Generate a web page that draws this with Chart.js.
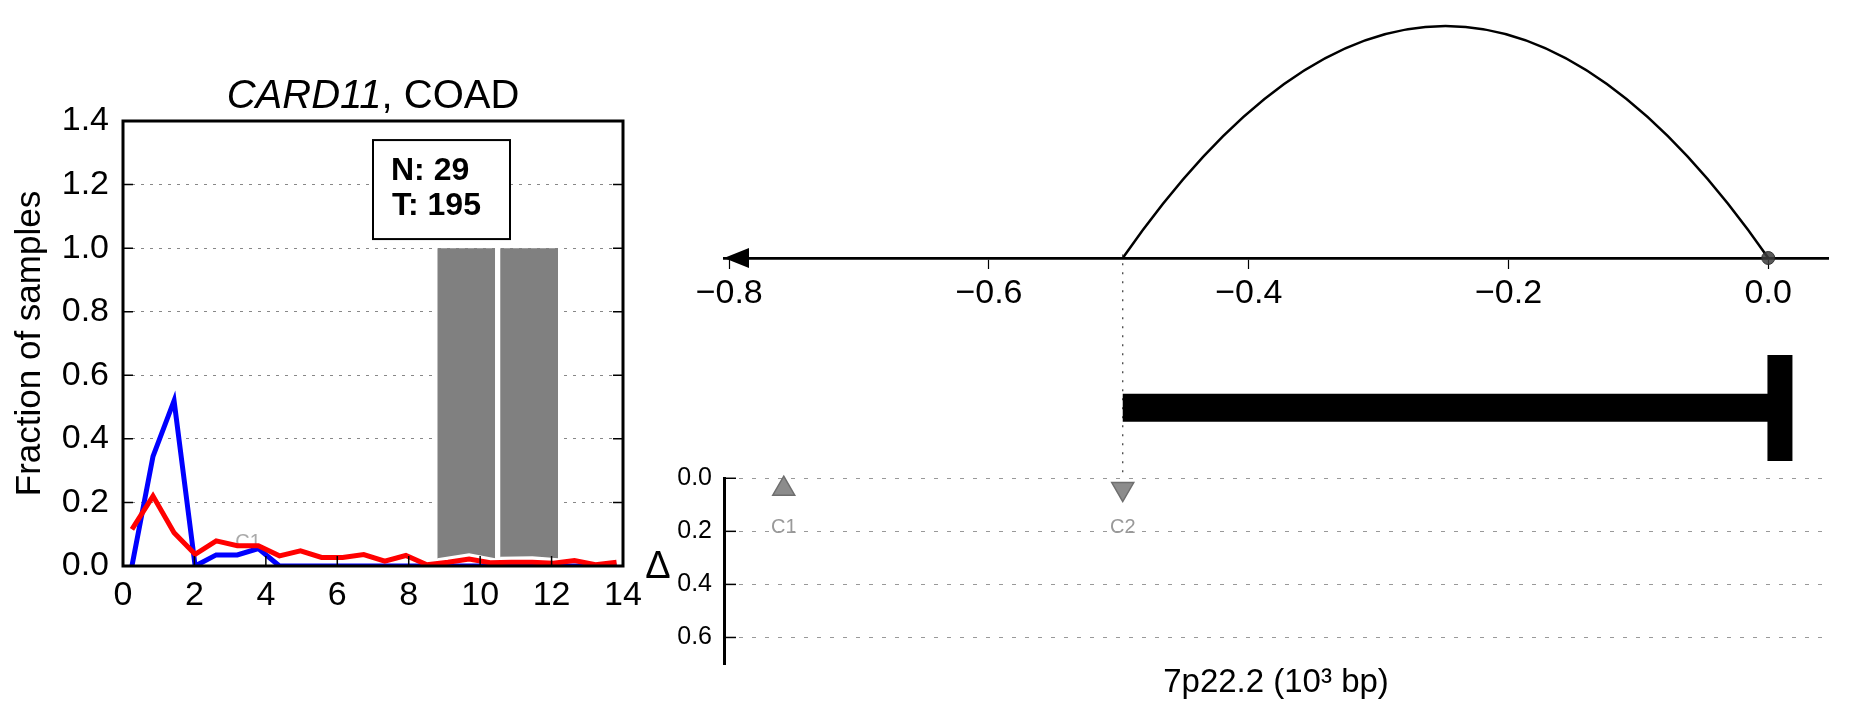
<!DOCTYPE html>
<html>
<head>
<meta charset="utf-8">
<script src="https://cdn.jsdelivr.net/npm/chart.js@4.4.1/dist/chart.umd.min.js"></script>
<style>
  body { margin: 0; background: #fff; }
  #wrap { position: relative; width: 1851px; height: 718px; overflow: hidden; }
  canvas { position: absolute; }
</style>
</head>
<body>
<div id="wrap">
  <canvas id="left" width="650" height="718" style="left:0;top:0;width:650px;height:718px"></canvas>
  <canvas id="rtop" width="1211" height="330" style="left:640px;top:0;width:1211px;height:330px"></canvas>
  <canvas id="rbot" width="1211" height="478" style="left:640px;top:240px;width:1211px;height:478px"></canvas>
</div>
<script>
Chart.defaults.font.family = '"Liberation Sans", Arial, Helvetica, sans-serif';
Chart.defaults.color = '#000';

// ---- left panel: fraction of samples ----
var sampleX = [0.25, 0.84, 1.43, 2.02, 2.61, 3.2, 3.79, 4.38, 4.97, 5.56, 6.15, 6.74,
               7.33, 7.92, 8.51, 9.1, 9.69, 10.28, 10.87, 11.46, 12.05, 12.64, 13.23, 13.82];
var normalFrac = [0.0, 0.345, 0.52, 0.0, 0.035, 0.035, 0.055, 0.0, 0.0, 0.0, 0.0, 0.0,
                  0.0, 0.0, 0.0, 0.0, 0.0, 0.0, 0.0, 0.0, 0.0, 0.0, 0.0, 0.0];
var tumorFrac = [0.115, 0.22, 0.105, 0.037, 0.079, 0.064, 0.064, 0.032, 0.048, 0.027, 0.027, 0.036,
                 0.015, 0.033, 0.004, 0.012, 0.022, 0.010, 0.012, 0.012, 0.009, 0.017, 0.004, 0.012];
var shadeAX = [8.8, 9.69, 10.42];
var shadeALow = [0.022, 0.038, 0.022];
var shadeBX = [10.56, 11.46, 12.18];
var shadeBLow = [0.027, 0.028, 0.022];
var shadeTop = 1.0;
var leftXTicks = [0, 2, 4, 6, 8, 10, 12, 14];
var leftYTicks = [0, 0.2, 0.4, 0.6, 0.8, 1.0, 1.2, 1.4];
var countLines = ['N: 29', 'T: 195'];
var boxAt = [7.0, 1.34];

// ---- right panel: arc plot + gene + delta markers ----
var topTicks = [-0.8, -0.6, -0.4, -0.2, 0.0];
var topTickLabels = ['\u22120.8', '\u22120.6', '\u22120.4', '\u22120.2', '0.0'];
var posMin = -0.804, posMax = 0.046;
var arcFrom = [-0.497];
var arcTo = [0.0];
var arcHeight = [1.0];
var anchorPos = [0.0];
var geneStart = -0.497, geneEnd = 0.0, geneCapPos = 0.009;
var markerNames = ['C1', 'C2'];
var markerPos = [-0.758, -0.497];
var markerDelta = [0.04, 0.04];
var markerRot = [0, 180];
var deltaTicks = [0, 0.2, 0.4, 0.6];

function pts(xs, ys) {
  return xs.map(function (x, i) { return {x: x, y: ys[i]}; });
}
function fixedTicks(list) {
  return function (s) { s.ticks = list.map(function (v) { return {value: v}; }); };
}

// left panel extras
var leftDeco = {
  id: 'leftDeco',
  beforeDatasetsDraw: function (chart) {
    var ctx = chart.ctx, x = chart.scales.x, y = chart.scales.y;
    ctx.save();
    ctx.fillStyle = '#aaaaaa';
    ctx.font = '20px "Liberation Sans", Arial';
    ctx.textAlign = 'center';
    ctx.textBaseline = 'middle';
    ctx.fillText('C1', x.getPixelForValue(3.5), y.getPixelForValue(0.075));
    ctx.restore();
  },
  afterDraw: function (chart) {
    var ctx = chart.ctx, a = chart.chartArea, x = chart.scales.x, y = chart.scales.y;
    ctx.save();
    // frame
    ctx.strokeStyle = '#000';
    ctx.lineWidth = 3;
    ctx.strokeRect(a.left, a.top, a.right - a.left, a.bottom - a.top);
    // inward ticks
    ctx.lineWidth = 1.5;
    y.ticks.forEach(function (t) {
      var p = y.getPixelForValue(t.value);
      ctx.beginPath();
      ctx.moveTo(a.left, p); ctx.lineTo(a.left + 10, p);
      ctx.moveTo(a.right, p); ctx.lineTo(a.right - 10, p);
      ctx.stroke();
    });
    x.ticks.forEach(function (t) {
      var p = x.getPixelForValue(t.value);
      ctx.beginPath();
      ctx.moveTo(p, a.bottom); ctx.lineTo(p, a.bottom - 10);
      ctx.stroke();
    });
    // counts box
    var bx = x.getPixelForValue(boxAt[0]), by = y.getPixelForValue(boxAt[1]);
    ctx.fillStyle = '#fff';
    ctx.fillRect(bx, by, 137, 99);
    ctx.lineWidth = 2;
    ctx.strokeRect(bx, by, 137, 99);
    ctx.fillStyle = '#000';
    ctx.font = 'bold 32px "Liberation Sans", Arial';
    ctx.textAlign = 'left';
    ctx.textBaseline = 'alphabetic';
    ctx.fillText(countLines[0], bx + 18, by + 40);
    ctx.fillText(countLines[1], bx + 19, by + 75);
    // title: italic gene name + cohort
    var f1 = 'italic 40px "Liberation Sans", Arial', f2 = '40px "Liberation Sans", Arial';
    ctx.font = f1; var w1 = ctx.measureText('CARD11').width;
    ctx.font = f2; var w2 = ctx.measureText(', COAD').width;
    var sx = (a.left + a.right) / 2 - (w1 + w2) / 2;
    ctx.font = f1; ctx.fillText('CARD11', sx, 108);
    ctx.font = f2; ctx.fillText(', COAD', sx + w1, 108);
    ctx.restore();
  }
};

new Chart(document.getElementById('left'), {
  type: 'scatter',
  data: {
    datasets: [
      {label: 'Tumor', data: pts(sampleX, tumorFrac), showLine: true, borderColor: '#ff0000',
       borderWidth: 5, pointRadius: 0, order: 0},
      {label: 'Normal', data: pts(sampleX, normalFrac), showLine: true, borderColor: '#0000ff',
       borderWidth: 5, pointRadius: 0, order: 1},
      {label: 'shadeA', data: pts(shadeAX, shadeALow), showLine: true, fill: {value: shadeTop},
       backgroundColor: '#808080', borderColor: '#ffffff', borderWidth: 1.5, pointRadius: 0, order: 2},
      {label: 'shadeB', data: pts(shadeBX, shadeBLow), showLine: true, fill: {value: shadeTop},
       backgroundColor: '#808080', borderColor: '#ffffff', borderWidth: 1.5, pointRadius: 0, order: 2}
    ]
  },
  options: {
    responsive: false,
    animation: false,
    devicePixelRatio: 1,
    layout: {padding: {top: 121, right: 27, left: 0, bottom: 0}},
    plugins: {legend: {display: false}, tooltip: {enabled: false}},
    scales: {
      x: {
        type: 'linear', min: 0, max: 14,
        afterBuildTicks: fixedTicks(leftXTicks),
        afterFit: function (s) { s.height = 152; },
        grid: {display: false},
        border: {display: false},
        ticks: {font: {size: 34}, color: '#000', padding: 1, maxRotation: 0,
                callback: function (v) { return String(v); }}
      },
      y: {
        type: 'linear', min: 0, max: 1.4,
        afterBuildTicks: fixedTicks(leftYTicks),
        afterFit: function (s) { s.width = 123; },
        grid: {color: '#888', lineWidth: 1, drawTicks: false},
        border: {display: false, dash: [3, 6]},
        ticks: {font: {size: 34}, color: '#000', padding: 14,
                callback: function (v) { return v.toFixed(1); }},
        title: {display: true, text: 'Fraction of samples', font: {size: 35}, color: '#000',
                padding: {top: 9, bottom: 0}}
      }
    }
  },
  plugins: [leftDeco]
});

// right top: arc over position axis
var arcDeco = {
  id: 'arcDeco',
  beforeDatasetsDraw: function (chart) {
    var ctx = chart.ctx, x = chart.scales.x, y = chart.scales.y;
    ctx.save();
    ctx.strokeStyle = '#000';
    ctx.lineWidth = 2.5;
    arcFrom.forEach(function (f, i) {
      var x0 = x.getPixelForValue(f), x1 = x.getPixelForValue(arcTo[i]);
      var base = y.getPixelForValue(0);
      var peak = y.getPixelForValue(arcHeight[i]);
      ctx.beginPath();
      ctx.moveTo(x0, base);
      ctx.quadraticCurveTo((x0 + x1) / 2, base - 2 * (base - peak), x1, base);
      ctx.stroke();
    });
    ctx.restore();
  },
  afterDraw: function (chart) {
    var ctx = chart.ctx, a = chart.chartArea, x = chart.scales.x;
    var tip = x.getPixelForValue(posMin);
    ctx.save();
    ctx.fillStyle = '#000';
    ctx.beginPath();
    ctx.moveTo(tip, a.bottom);
    ctx.lineTo(tip + 25, a.bottom - 10);
    ctx.lineTo(tip + 25, a.bottom + 10);
    ctx.closePath();
    ctx.fill();
    ctx.restore();
  }
};

new Chart(document.getElementById('rtop'), {
  type: 'scatter',
  data: {
    datasets: [
      {label: 'anchor', data: pts(anchorPos, [0]), pointRadius: 6.5,
       backgroundColor: 'rgba(60,60,60,0.85)', borderColor: 'rgba(40,40,40,0.9)', borderWidth: 1, clip: false}
    ]
  },
  options: {
    responsive: false,
    animation: false,
    devicePixelRatio: 1,
    layout: {padding: {top: 26, right: 23, left: 84, bottom: 0}},
    plugins: {legend: {display: false}, tooltip: {enabled: false}},
    scales: {
      x: {
        type: 'linear', min: posMin, max: posMax,
        afterBuildTicks: fixedTicks(topTicks),
        afterFit: function (s) { s.height = 72; },
        grid: {drawOnChartArea: false, drawTicks: true, tickLength: 11, tickColor: '#000', tickWidth: 1.2},
        border: {display: true, color: '#000', width: 2.8},
        ticks: {font: {size: 34}, color: '#000', padding: 4, maxRotation: 0,
                callback: function (v, i) { return topTickLabels[i]; }}
      },
      y: {type: 'linear', min: 0, max: 1, display: false}
    }
  },
  plugins: [arcDeco]
});

// right bottom: gene glyph, dotted guide and delta panel
var deltaDeco = {
  id: 'deltaDeco',
  afterDraw: function (chart) {
    var ctx = chart.ctx, a = chart.chartArea, x = chart.scales.x, y = chart.scales.y;
    ctx.save();
    ctx.strokeStyle = '#000';
    ctx.lineWidth = 1.5;
    y.ticks.forEach(function (t) {
      var p = y.getPixelForValue(t.value);
      ctx.beginPath();
      ctx.moveTo(a.left, p); ctx.lineTo(a.left + 12, p);
      ctx.stroke();
    });
    ctx.fillStyle = '#999';
    ctx.font = '20px "Liberation Sans", Arial';
    ctx.textAlign = 'center';
    ctx.textBaseline = 'middle';
    markerNames.forEach(function (n, i) {
      ctx.fillText(n, x.getPixelForValue(markerPos[i]), y.getPixelForValue(markerDelta[i]) + 39);
    });
    ctx.fillStyle = '#000';
    ctx.font = '38px "Liberation Sans", Arial';
    ctx.fillText('\u0394', a.left - 66, (y.top + y.bottom) / 2 - 4);
    ctx.restore();
  }
};

function noEdgePadding(s) {
  s.width = 84;
  s.paddingTop = 0;
  s.paddingBottom = 0;
}

new Chart(document.getElementById('rbot'), {
  type: 'scatter',
  data: {
    datasets: [
      {label: 'gene', data: pts([geneStart, geneEnd], [0.315, 0.315]), yAxisID: 'yb', showLine: true,
       borderColor: '#000', borderWidth: 28, borderCapStyle: 'butt', pointRadius: 0},
      {label: 'cap', data: pts([geneCapPos, geneCapPos], [0.077, 0.55]), yAxisID: 'yb', showLine: true,
       borderColor: '#000', borderWidth: 25, borderCapStyle: 'butt', pointRadius: 0},
      {label: 'guide', data: pts([arcFrom[0], arcFrom[0]], [1, 0]), yAxisID: 'yb', showLine: true,
       borderColor: '#333', borderWidth: 1.2, borderDash: [2, 7], pointRadius: 0},
      {label: 'markers', data: pts(markerPos, markerDelta), yAxisID: 'y', pointStyle: 'triangle',
       rotation: markerRot, pointRadius: 12.7, backgroundColor: 'rgba(128,128,128,0.9)',
       borderColor: '#6e6e6e', borderWidth: 1.5, clip: false}
    ]
  },
  options: {
    responsive: false,
    animation: false,
    devicePixelRatio: 1,
    layout: {padding: {top: 0, right: 23, left: 0, bottom: 0}},
    plugins: {legend: {display: false}, tooltip: {enabled: false}},
    scales: {
      x: {
        type: 'linear', min: posMin, max: posMax,
        afterFit: function (s) { s.height = 54; s.paddingLeft = 0; s.paddingRight = 0; },
        grid: {display: false},
        border: {display: false},
        ticks: {display: false},
        title: {display: true, text: '7p22.2 (10\u00b3 bp)', font: {size: 33}, color: '#000',
                padding: {top: 0, bottom: 15}}
      },
      yb: {
        type: 'linear', position: 'left', stack: 'right', stackWeight: 222, weight: 2,
        min: 0, max: 1,
        afterFit: noEdgePadding,
        grid: {display: false},
        border: {display: false},
        ticks: {display: false}
      },
      y: {
        type: 'linear', position: 'left', stack: 'right', stackWeight: 184, weight: 1,
        reverse: true, min: 0, max: 0.7,
        afterBuildTicks: fixedTicks(deltaTicks),
        afterFit: noEdgePadding,
        grid: {color: '#999', lineWidth: 1, drawTicks: false},
        border: {display: true, color: '#000', width: 3, dash: [4, 9]},
        ticks: {font: {size: 25}, color: '#000', padding: 12,
                callback: function (v) { return v.toFixed(1); }}
      }
    }
  },
  plugins: [deltaDeco]
});
</script>
</body>
</html>
